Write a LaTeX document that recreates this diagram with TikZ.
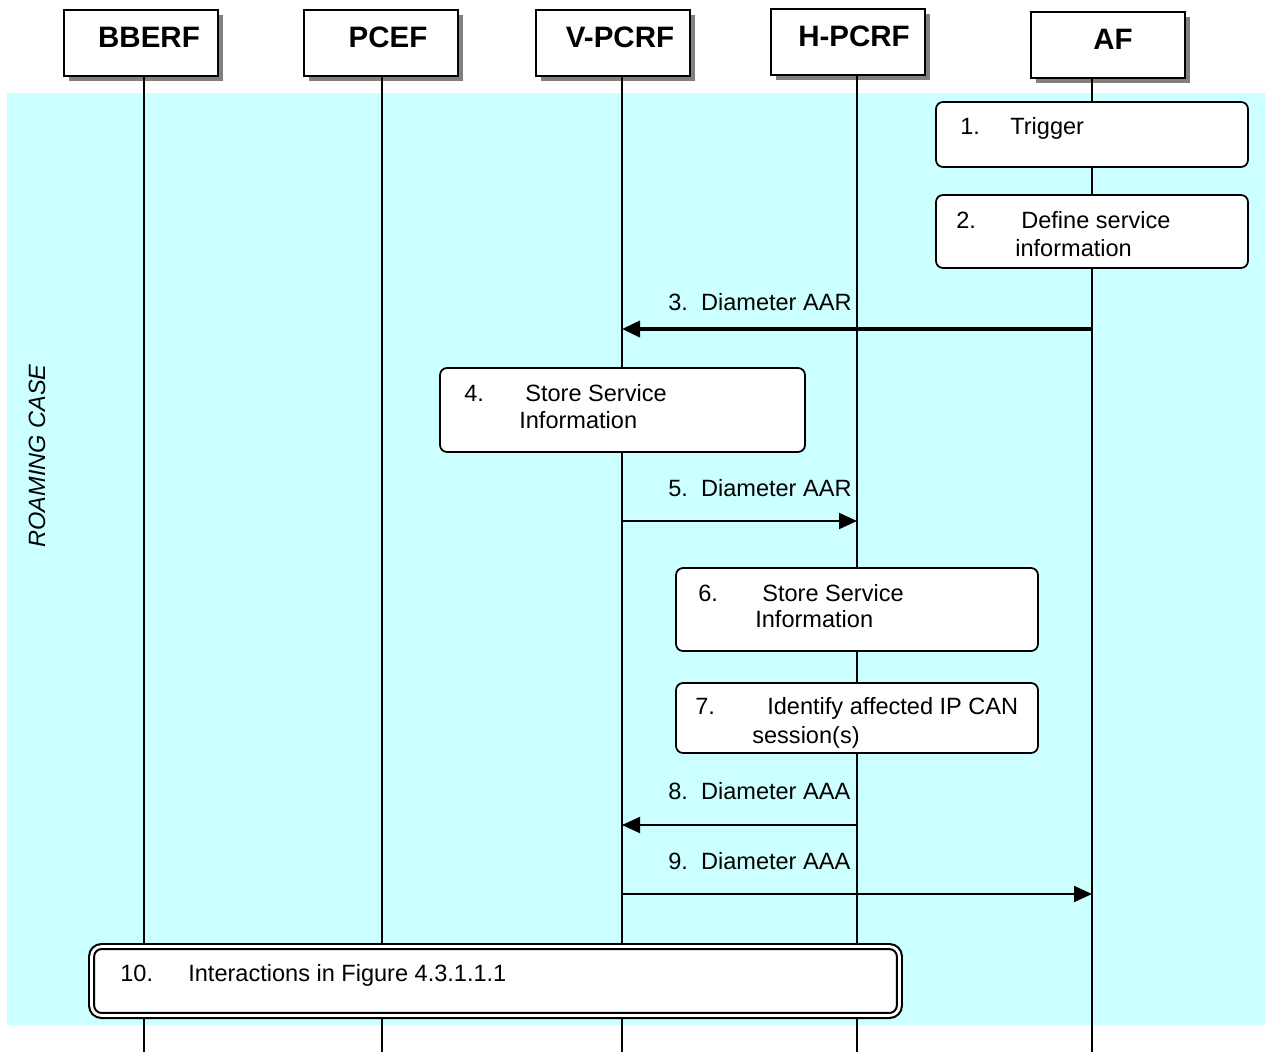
\documentclass[tikz,border=0pt]{standalone}
\usepackage{fontspec}
\setmainfont{Liberation Sans}
\usetikzlibrary{arrows.meta, positioning, shadows}
\definecolor{roam}{HTML}{CCFFFF}

\begin{document}
\begin{tikzpicture}[x=0.02cm, y=-0.02cm,
  entity/.style={draw, line width=1pt, fill=white, minimum width=3.08cm, minimum height=1.32cm,
    text height=0.74cm, text depth=0.58cm, inner ysep=0pt, font=\fontsize{16.8}{20}\selectfont\bfseries,
    drop shadow={shadow xshift=0.1cm, shadow yshift=-0.1cm, fill=black!50, opacity=1}},
  lifeline/.style={line width=0.8pt},
  stepbox/.style={draw, line width=1pt, fill=white, rounded corners=0.14cm, inner sep=0pt},
  txt/.style={anchor=base west, inner sep=0pt, font=\fontsize{13.4}{16}\selectfont},
  msg/.style={line width=1.1pt, -{Triangle[length=0.36cm, width=0.32cm]}}]
\useasboundingbox (0,0) rectangle (1265,1052);

% roaming area
\fill[roam] (7,93) rectangle (1265,1025);
\node[rotate=90, inner sep=0pt, font=\fontsize{13.4}{16}\selectfont\itshape] (roaming) at (37,456) {ROAMING CASE};

% entities
\node[entity] (bberf) at (141,43) {\hspace*{0.32cm}BBERF};
\node[entity] (pcef) at (381,43) {\hspace*{0.28cm}PCEF};
\node[entity] (vpcrf) at (613,43) {\hspace*{0.28cm}V-PCRF};
\node[entity] (hpcrf) at (848,42) {\hspace*{0.24cm}H-PCRF};
\node[entity] (af) at (1108,45) {\hspace*{0.2cm}AF};

% lifelines
\coordinate (bberf-top) at (144,76); \coordinate (bberf-bot) at (144,1052);
\coordinate (pcef-top) at (382,76);  \coordinate (pcef-bot) at (382,1052);
\coordinate (vpcrf-top) at (622,77); \coordinate (vpcrf-bot) at (622,1052);
\coordinate (hpcrf-top) at (857,75); \coordinate (hpcrf-bot) at (857,1052);
\coordinate (af-top) at (1092,77);   \coordinate (af-bot) at (1092,1052);
\draw[lifeline] (bberf-top) -- (bberf-bot);
\draw[lifeline] (pcef-top) -- (pcef-bot);
\draw[lifeline] (vpcrf-top) -- (vpcrf-bot);
\draw[lifeline] (hpcrf-top) -- (hpcrf-bot);
\draw[lifeline] (af-top) -- (af-bot);

% 1 and 2
\node[stepbox, minimum width=6.24cm, minimum height=1.3cm] (s1) at (1092,134.5) {};
\node[txt] (s1-n) at (960,134) {1.};
\node[txt] (s1-t) at (1010,134) {Trigger};

\node[stepbox, minimum width=6.24cm, minimum height=1.46cm] (s2) at (1092,231.5) {};
\node[txt] (s2-n) at (956,228) {2.};
\node[txt] (s2-t) at (1021,228) {Define service};
\node[txt] (s2-u) at (1015,256) {information};

% 3
\coordinate (m3) at (0,329);
\draw[msg, line width=2.2pt] (af-top |- m3) -- (vpcrf-top |- m3);
\node[txt] (l3) at (668,310) {\makebox[1.39em][l]{3.}Diameter AAR};

% 4
\node[stepbox, minimum width=7.3cm, minimum height=1.68cm] (s4) at (622.5,410) {};
\node[txt] (s4-n) at (464,401) {4.};
\node[txt] (s4-t) at (525,401) {Store Service};
\node[txt] (s4-u) at (519,428) {Information};

% 5
\coordinate (m5) at (0,521);
\draw[msg] (vpcrf-top |- m5) -- (hpcrf-top |- m5);
\node[txt] (l5) at (668,496) {\makebox[1.39em][l]{5.}Diameter AAR};

% 6 and 7
\node[stepbox, minimum width=7.24cm, minimum height=1.66cm] (s6) at (857,609.5) {};
\node[txt] (s6-n) at (698,601) {6.};
\node[txt] (s6-t) at (762,601) {Store Service};
\node[txt] (s6-u) at (755,627) {Information};

\node[stepbox, minimum width=7.24cm, minimum height=1.4cm] (s7) at (857,718) {};
\node[txt] (s7-n) at (695,714) {7.};
\node[txt] (s7-t) at (767,714) {Identify affected IP CAN};
\node[txt] (s7-u) at (752,743) {session(s)};

% 8 and 9
\coordinate (m8) at (0,825);
\draw[msg] (hpcrf-top |- m8) -- (vpcrf-top |- m8);
\node[txt] (l8) at (668,799) {\makebox[1.39em][l]{8.}Diameter AAA};

\coordinate (m9) at (0,894);
\draw[msg] (vpcrf-top |- m9) -- (af-top |- m9);
\node[txt] (l9) at (668,869) {\makebox[1.39em][l]{9.}Diameter AAA};

% 10
\node[draw, line width=1.2pt, double, double distance=1.6pt, fill=white, rounded corners=0.2cm,
  minimum width=16.16cm, minimum height=1.38cm] (s10) at (495.5,981) {};
\node[txt] (s10-n) at (120,981) {10.};
\node[txt] (s10-t) at (188,981) {Interactions in Figure 4.3.1.1.1};

\end{tikzpicture}
\end{document}
